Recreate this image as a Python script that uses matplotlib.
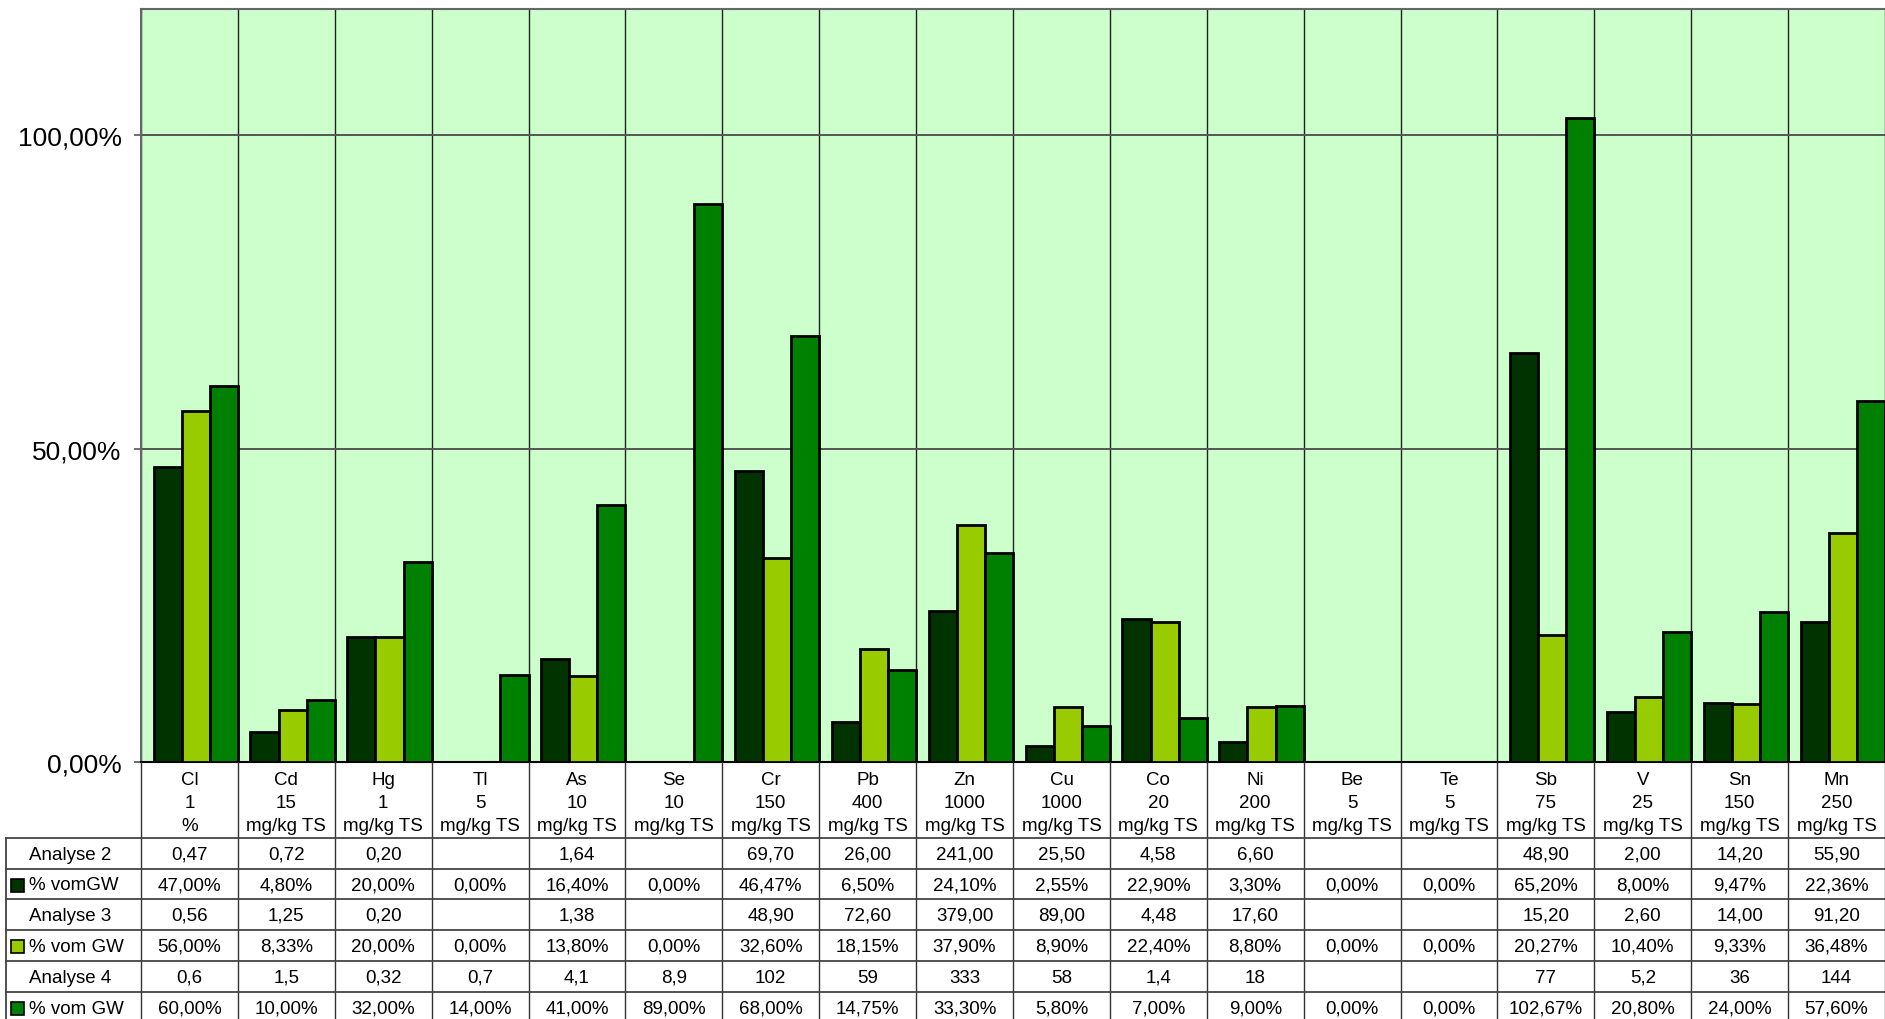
import numpy as np
import matplotlib
matplotlib.use('Agg')
import matplotlib.pyplot as plt
from matplotlib.patches import Rectangle

plt.rcParams['font.family'] = ['Liberation Sans', 'DejaVu Sans']

# Daten
elements = ['Cl', 'Cd', 'Hg', 'Tl', 'As', 'Se', 'Cr', 'Pb', 'Zn', 'Cu', 'Co', 'Ni',
            'Be', 'Te', 'Sb', 'V', 'Sn', 'Mn']
limits = ['1', '15', '1', '5', '10', '10', '150', '400', '1000', '1000', '20', '200',
          '5', '5', '75', '25', '150', '250']
units = ['%'] + ['mg/kg TS'] * 17

analyse2 = ['0,47', '0,72', '0,20', '', '1,64', '', '69,70', '26,00', '241,00', '25,50',
            '4,58', '6,60', '', '', '48,90', '2,00', '14,20', '55,90']
pct2 = [47.00, 4.80, 20.00, 0.00, 16.40, 0.00, 46.47, 6.50, 24.10, 2.55, 22.90, 3.30,
        0.00, 0.00, 65.20, 8.00, 9.47, 22.36]
analyse3 = ['0,56', '1,25', '0,20', '', '1,38', '', '48,90', '72,60', '379,00', '89,00',
            '4,48', '17,60', '', '', '15,20', '2,60', '14,00', '91,20']
pct3 = [56.00, 8.33, 20.00, 0.00, 13.80, 0.00, 32.60, 18.15, 37.90, 8.90, 22.40, 8.80,
        0.00, 0.00, 20.27, 10.40, 9.33, 36.48]
analyse4 = ['0,6', '1,5', '0,32', '0,7', '4,1', '8,9', '102', '59', '333', '58', '1,4',
            '18', '', '', '77', '5,2', '36', '144']
pct4 = [60.00, 10.00, 32.00, 14.00, 41.00, 89.00, 68.00, 14.75, 33.30, 5.80, 7.00, 9.00,
        0.00, 0.00, 102.67, 20.80, 24.00, 57.60]

c_dark, c_light, c_mid = '#003300', '#99CC00', '#008000'
bg = '#CCFFCC'

W, H = 1885, 1020
x0, x1 = 141, 1885          # plot area in pixels
y_top, y_zero = 10.4, 763.4
n = len(elements)
unit = (x1 - x0) / n

fig = plt.figure(figsize=(W / 100, H / 100), dpi=100)
ax = fig.add_axes([x0 / W, 1 - y_zero / H, (x1 - x0) / W, (y_zero - y_top) / H])
ax.set_facecolor(bg)

x = np.arange(n)
bw = 0.29
gap = 0.13
series = [(pct2, c_dark), (pct3, c_light), (pct4, c_mid)]
for k, (vals, col) in enumerate(series):
    ax.bar(x + gap + k * bw, np.array(vals) / 100, width=bw, align='edge',
           color=col, edgecolor='black', linewidth=2.0, zorder=3)

ax.set_xlim(0, n)
ax.set_ylim(0, 1.2)
ax.set_xticks(np.arange(n + 1))
ax.set_xticklabels([])
ax.tick_params(axis='x', length=0)
ax.grid(axis='x', color='#222222', linewidth=1.0, zorder=1)
ax.set_yticks([0, 0.5, 1.0])
ax.set_yticklabels(['0,00%', '50,00%', '100,00%'], fontsize=19)
ax.tick_params(axis='y', length=5, width=1.2, color='#555555', pad=9)
ax.grid(axis='y', color='#555555', linewidth=1.4, zorder=1)
ax.set_axisbelow(True)
for s in ['top', 'left']:
    ax.spines[s].set_color('#666666')
    ax.spines[s].set_linewidth(1.5)
ax.spines['right'].set_visible(False)
ax.spines['bottom'].set_color('black')
ax.spines['bottom'].set_linewidth(1.5)

# Datentabelle unter dem Diagramm
tab = fig.add_axes([0, 0, 1, 1 - y_zero / H])
tab.set_xlim(-x0 / unit, n)
tab.set_ylim(H, y_zero)
tab.axis('off')
xl = (6 - x0) / unit
fs = 13.5

rows_y = [839, 870, 900, 931, 962, 993, 1024]
for xb in range(n + 1):
    tab.plot([xb, xb], [y_zero, H], color='#333333', lw=1.0)
tab.plot([xl, xl], [rows_y[0], H], color='#333333', lw=1.2)
for yb in rows_y[:-1]:
    tab.plot([xl, n], [yb, yb], color='#444444', lw=1.3)

for i in range(n):
    tab.text(i + 0.5, 781, elements[i], ha='center', va='center', fontsize=fs)
    tab.text(i + 0.5, 804, limits[i], ha='center', va='center', fontsize=fs)
    tab.text(i + 0.5, 827, units[i], ha='center', va='center', fontsize=fs)

fmt = lambda v: ('%.2f' % v).replace('.', ',') + '%'
table_rows = [
    ('Analyse 2', None, analyse2),
    ('% vomGW', c_dark, [fmt(v) for v in pct2]),
    ('Analyse 3', None, analyse3),
    ('% vom GW', c_light, [fmt(v) for v in pct3]),
    ('Analyse 4', None, analyse4),
    ('% vom GW', c_mid, [fmt(v) for v in pct4]),
]
key_w = 13 / unit
for r, (label, col, cells) in enumerate(table_rows):
    yc = (rows_y[r] + rows_y[r + 1]) / 2 + 1
    tab.text((29 - x0) / unit, yc, label, ha='left', va='center', fontsize=fs)
    if col is not None:
        tab.add_patch(Rectangle(((11 - x0) / unit, yc - 6.5), key_w, 13,
                                facecolor=col, edgecolor='black', lw=1.2))
    for i, c in enumerate(cells):
        tab.text(i + 0.5, yc, c, ha='center', va='center', fontsize=fs)

fig.savefig('out.png', dpi=100)
